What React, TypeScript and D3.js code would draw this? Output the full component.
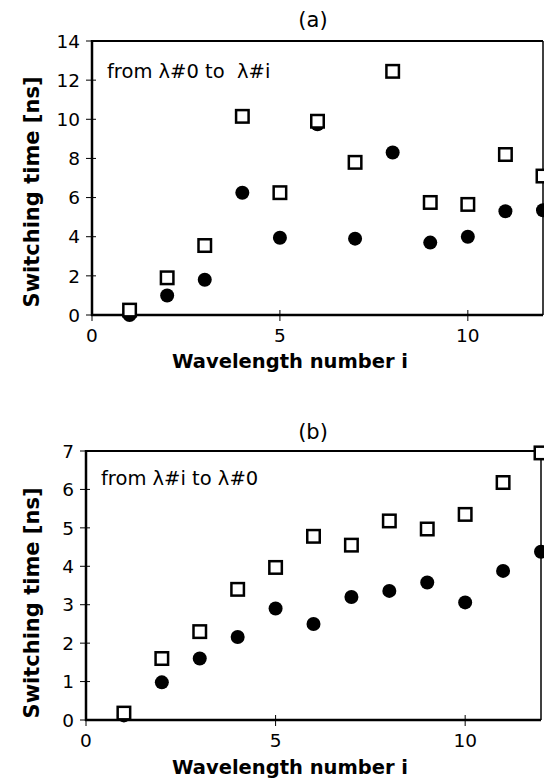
import React from 'react';
import * as d3 from 'd3';

const waveNumbers = [1, 2, 3, 4, 5, 6, 7, 8, 9, 10, 11, 12];

// panel (a): from λ#0 to λ#i
const aSquares = [0.25, 1.9, 3.55, 10.15, 6.25, 9.9, 7.8, 12.45, 5.75, 5.65, 8.2, 7.1];
const aCircles = [0, 1.0, 1.8, 6.25, 3.95, 9.75, 3.9, 8.3, 3.7, 4.0, 5.3, 5.35];
const aYTicks = [0, 2, 4, 6, 8, 10, 12, 14];

// panel (b): from λ#i to λ#0
const bSquares = [0.18, 1.6, 2.3, 3.4, 3.97, 4.78, 4.55, 5.18, 4.97, 5.35, 6.18, 6.95];
const bCircles = [0.12, 0.98, 1.6, 2.16, 2.9, 2.5, 3.2, 3.36, 3.58, 3.06, 3.88, 4.38];
const bYTicks = [0, 1, 2, 3, 4, 5, 6, 7];

const xTicks = [0, 5, 10];

const FONT = '"DejaVu Sans", sans-serif';

type PanelProps = {
  title: string;
  note: string;
  squares: number[];
  circles: number[];
  yTicks: number[];
  yMax: number;
  left: number;
  right: number;
  top: number;
  bottom: number;
  titleY: number;
  noteY: number;
  yLabelMid: number;
  xLabelY: number;
};

const Panel = (p: PanelProps) => {
  const { squares, circles, yTicks, left, right, top, bottom } = p;
  const x = d3.scaleLinear().domain([0, 12]).range([left, right]);
  const y = d3.scaleLinear().domain([0, p.yMax]).range([bottom, top]);
  const sq = 12.5;

  return (
    <g fontFamily={FONT}>
      <text x={313} y={p.titleY} textAnchor="middle" fontSize={21}>
        {p.title}
      </text>
      <text x={left + 15} y={p.noteY} fontSize={19.5} style={{ whiteSpace: 'pre' }}>
        {p.note}
      </text>

      {/* frame */}
      <line x1={left} x2={right} y1={top} y2={top} stroke="#000" strokeWidth={2} />
      <line x1={right} x2={right} y1={top} y2={bottom} stroke="#000" strokeWidth={1.5} />
      <line x1={left} x2={left} y1={top - 1} y2={bottom + 1} stroke="#000" strokeWidth={2.5} />
      <line x1={left - 1} x2={right} y1={bottom} y2={bottom} stroke="#000" strokeWidth={2.5} />

      {/* y axis */}
      {yTicks.map((t) => (
        <g key={'y' + t}>
          <line x1={left - 6} x2={left + 4} y1={y(t)} y2={y(t)} stroke="#000" strokeWidth={1} />
          <text x={left - 12} y={y(t)} dy="0.36em" textAnchor="end" fontSize={18.5}>
            {t}
          </text>
        </g>
      ))}

      {/* x axis */}
      {xTicks.map((t) => (
        <g key={'x' + t}>
          <line x1={x(t)} x2={x(t)} y1={bottom - 5} y2={bottom + 6} stroke="#000" strokeWidth={1} />
          <text x={x(t)} y={bottom + 27} textAnchor="middle" fontSize={18.5}>
            {t}
          </text>
        </g>
      ))}

      <text
        transform={`translate(39,${p.yLabelMid}) rotate(-90)`}
        textAnchor="middle"
        fontSize={21}
        fontWeight="bold"
      >
        Switching time [ns]
      </text>
      <text x={290} y={p.xLabelY} textAnchor="middle" fontSize={19.5} fontWeight="bold">
        Wavelength number i
      </text>

      {/* filled circles */}
      {circles.map((v, i) => (
        <circle key={'c' + i} cx={x(waveNumbers[i])} cy={y(v)} r={7} fill="#000" />
      ))}
      {/* open squares */}
      {squares.map((v, i) => (
        <rect
          key={'s' + i}
          x={x(waveNumbers[i]) - sq / 2}
          y={y(v) - sq / 2}
          width={sq}
          height={sq}
          fill="#fff"
          stroke="#000"
          strokeWidth={2.5}
        />
      ))}
    </g>
  );
};

export default function App() {
  return (
    <svg
      width={544}
      height={782}
      style={{ position: 'absolute', left: 0, top: 0, background: '#fff' }}
    >
      <Panel
        title="(a)"
        note="from λ#0 to  λ#i"
        squares={aSquares}
        circles={aCircles}
        yTicks={aYTicks}
        yMax={14}
        left={92}
        right={543}
        top={41}
        bottom={315}
        titleY={27}
        noteY={78}
        yLabelMid={192}
        xLabelY={368}
      />
      <Panel
        title="(b)"
        note="from λ#i to λ#0"
        squares={bSquares}
        circles={bCircles}
        yTicks={bYTicks}
        yMax={7}
        left={86}
        right={541}
        top={451}
        bottom={720}
        titleY={439}
        noteY={485}
        yLabelMid={603}
        xLabelY={774}
      />
    </svg>
  );
}
